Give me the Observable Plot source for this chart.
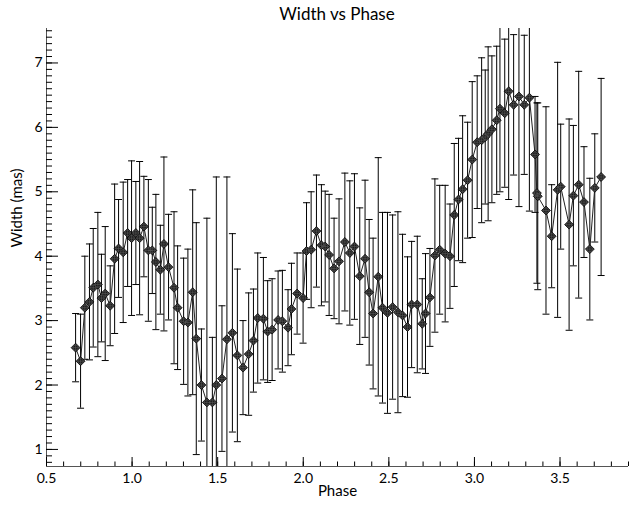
<!DOCTYPE html>
<html><head><meta charset="utf-8">
<script src="https://cdn.jsdelivr.net/npm/d3@7"></script>
<script src="https://cdn.jsdelivr.net/npm/@observablehq/plot@0.6"></script>
<style>
body{margin:0;background:#fff;font-family:Lato,"Liberation Sans",sans-serif;}
#title{position:relative;width:635px;height:28px;}
#title span{position:absolute;left:337px;top:4px;transform:translateX(-50%);font-size:17px;line-height:20px;color:#000;white-space:nowrap;}
</style></head><body>
<div id="title"><span>Width vs Phase</span></div>
<div id="chart"></div>
<script>
const phase = [0.670,0.699,0.724,0.751,0.773,0.800,0.821,0.843,0.872,0.898,
0.921,0.948,0.974,0.997,1.022,1.044,1.069,1.095,1.118,1.139,
1.165,1.186,1.213,1.245,1.266,1.301,1.326,1.354,1.375,1.405,
1.437,1.469,1.492,1.525,1.554,1.586,1.615,1.648,1.681,1.709,
1.734,1.767,1.792,1.818,1.853,1.878,1.911,1.931,1.964,1.999,
2.019,2.046,2.077,2.106,2.128,2.151,2.180,2.209,2.243,2.272,
2.299,2.330,2.361,2.385,2.408,2.438,2.463,2.492,2.522,2.553,
2.580,2.609,2.633,2.666,2.695,2.714,2.740,2.769,2.797,2.829,
2.857,2.882,2.907,2.931,2.960,2.987,3.016,3.042,3.063,3.080,
3.102,3.130,3.149,3.177,3.200,3.229,3.260,3.291,3.321,3.354,
3.365,3.370,3.418,3.451,3.486,3.504,3.553,3.578,3.609,3.640,
3.674,3.703,3.740];
const widthMas = [2.58,2.37,3.20,3.29,3.51,3.56,3.35,3.42,3.23,3.96,
4.12,4.06,4.36,4.28,4.36,4.28,4.46,4.09,4.09,3.91,
3.79,4.19,3.83,3.51,3.20,2.99,2.97,3.44,2.72,2.00,
1.73,1.73,2.00,2.10,2.71,2.81,2.46,2.27,2.48,2.69,
3.04,3.03,2.83,2.86,3.01,2.99,2.89,3.18,3.42,3.35,
4.08,4.10,4.39,4.17,4.15,4.02,3.81,3.92,4.22,4.05,
4.15,3.69,3.96,3.44,3.11,3.68,3.20,3.12,3.21,3.13,
3.08,2.90,3.25,3.25,2.95,3.11,3.36,4.01,4.10,4.04,
4.00,4.64,4.88,5.04,5.18,5.50,5.77,5.80,5.85,5.90,
5.97,6.11,6.29,6.22,6.56,6.35,6.48,6.35,6.46,5.58,
4.98,4.93,4.71,4.31,5.03,5.08,4.49,4.94,5.11,4.84,
4.11,5.06,5.23];
const errMas = [0.53,0.73,0.80,0.90,0.92,1.12,0.68,1.04,0.62,1.16,
0.76,1.09,0.83,1.20,0.80,1.19,0.78,1.10,0.67,1.05,
0.69,1.35,0.82,1.18,0.96,0.98,1.14,1.59,1.80,0.87,
2.86,1.01,3.23,1.13,2.52,1.54,1.34,0.73,0.95,0.80,
1.01,0.95,0.79,0.79,0.76,0.79,0.59,0.71,0.63,0.70,
0.75,0.90,0.87,0.94,0.86,0.94,0.78,0.97,1.07,1.12,
1.13,1.06,1.22,1.13,1.17,1.85,1.48,1.56,1.43,1.56,
1.26,1.09,0.98,1.06,0.70,0.93,0.76,1.19,1.00,1.06,
0.81,1.11,0.95,1.14,0.90,1.21,1.03,1.28,1.04,1.35,
1.14,1.15,1.29,1.15,1.68,1.09,1.71,1.08,1.76,0.90,
1.40,1.45,1.61,0.80,1.98,0.97,1.64,1.09,1.76,0.86,
1.10,0.84,1.53];

const xTicks = [0.5, 1.0, 1.5, 2.0, 2.5, 3.0, 3.5];
const yTicks = [1, 2, 3, 4, 5, 6, 7];
const xDomain = [0.5, 3.9];
const yDomain = [0.735, 7.535];
const xMinor = d3.range(6, 40).map(v => v / 10);
const yMinor = d3.range(8, 76).map(v => v / 10);

const data = phase.map((p, i) => ({phase: p, w: widthMas[i], e: errMas[i]}));

const capSymbol = {draw(ctx, size) { const r = Math.sqrt(size / Math.PI); ctx.moveTo(-r, 0); ctx.lineTo(r, 0); }};

const chart = Plot.plot({
  width: 635, height: 480,
  marginTop: 0, marginLeft: 46, marginRight: 7, marginBottom: 42,
  x: {domain: xDomain},
  y: {domain: yDomain},
  style: {fontFamily: "Lato, 'Liberation Sans', sans-serif", fontSize: "14px", color: "#000", background: "#fff"},
  marks: [
    Plot.ruleX(data, {x: "phase", y1: d => d.w - d.e, y2: d => d.w + d.e, stroke: "#000", strokeWidth: 1, clip: true}),
    Plot.dot(data, {x: "phase", y: d => d.w + d.e, symbol: capSymbol, r: 3.5, fill: "none", stroke: "#000", strokeWidth: 1, clip: true}),
    Plot.dot(data, {x: "phase", y: d => d.w - d.e, symbol: capSymbol, r: 3.5, fill: "none", stroke: "#000", strokeWidth: 1, clip: true}),
    Plot.line(data, {x: "phase", y: "w", stroke: "#222", strokeWidth: 1, clip: true}),
    Plot.dot(data, {x: "phase", y: "w", symbol: "diamond2", r: 4, fill: "#1a1a1a", stroke: "#000", strokeWidth: 0.8}),
    Plot.dot(data, {x: "phase", y: "w", symbol: "circle", r: 2.7, fill: "none", stroke: "#5a5a5a", strokeWidth: 0.6}),
    Plot.dot(data, {x: "phase", y: "w", symbol: "plus", r: 2.6, stroke: "#5a5a5a", strokeWidth: 0.6}),
    Plot.ruleX([xDomain[0]], {stroke: "#555"}),
    Plot.ruleY([yDomain[0]], {stroke: "#555"}),
    Plot.axisY(yTicks, {tickSize: 12, dx: 12, text: null, label: null, stroke: "#000"}),
    Plot.axisY(yMinor, {tickSize: 6, dx: 6, text: null, label: null, stroke: "#000"}),
    Plot.axisX(xTicks, {tickSize: 9, dy: -9, text: null, label: null, stroke: "#000"}),
    Plot.axisX(xMinor, {tickSize: 4.5, dy: -4.5, text: null, label: null, stroke: "#000"}),
    Plot.axisY(yTicks, {tickSize: 0, tickPadding: 4, tickFormat: d3.format("d"), label: null, fontSize: 14}),
    Plot.axisX(xTicks, {tickSize: 0, tickPadding: 7, tickFormat: d3.format(".1f"), label: null, fontSize: 14}),
    Plot.text(["Width (mas)"], {frameAnchor: "left", rotate: -90, dx: -29, fontSize: 15}),
    Plot.text(["Phase"], {frameAnchor: "bottom", dy: 29, fontSize: 15})
  ]
});
document.getElementById("chart").appendChild(chart);
</script>
</body></html>
